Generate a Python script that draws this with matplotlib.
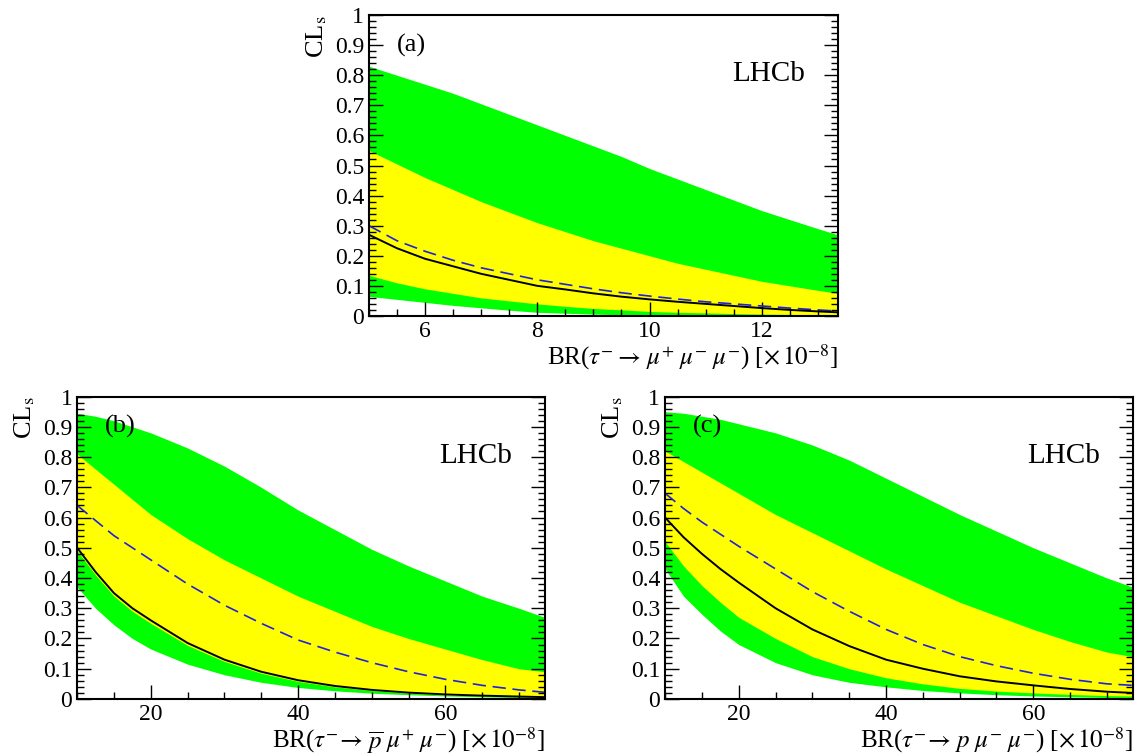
import numpy as np
import matplotlib.pyplot as plt
from matplotlib.ticker import MultipleLocator

plt.rcParams['font.family'] = ['Liberation Serif', 'DejaVu Serif']
plt.rcParams['mathtext.fontset'] = 'stix'

# Panel (a): tau -> mu mu mu
xa = [5, 5.5, 6, 6.5, 7, 7.5, 8, 8.5, 9, 9.5, 10, 10.5, 11, 11.5, 12, 12.5, 13, 13.35]
a_g_hi = [.83, .80, .77, .74, .705, .67, .635, .60, .565, .53, .49, .455, .42, .385, .35, .32, .29, .27]
a_y_hi = [.55, .505, .46, .42, .38, .345, .31, .28, .25, .225, .20, .175, .155, .135, .115, .10, .085, .075]
a_exp = [.30, .25, .215, .185, .16, .14, .12, .105, .09, .077, .066, .056, .047, .04, .033, .026, .02, .016]
a_obs = [.27, .225, .19, .165, .14, .12, .10, .088, .075, .064, .055, .047, .04, .033, .026, .02, .015, .012]
a_y_lo = [.135, .11, .09, .075, .06, .05, .04, .032, .025, .02, .015, .012, .01, .008, .006, .005, .004, .004]
a_g_lo = [.065, .055, .045, .035, .027, .019, .012, .009, .006, .004, .003, .002, .002, .001, .001, 0, 0, 0]

# Panel (b): tau -> pbar mu+ mu-
xb = [10, 12.5, 15, 17.5, 20, 25, 30, 35, 40, 45, 50, 55, 60, 65, 70, 73.5]
b_g_hi = [.945, .935, .92, .90, .88, .83, .77, .70, .625, .56, .495, .44, .39, .34, .30, .27]
b_y_hi = [.81, .76, .71, .66, .61, .53, .46, .40, .34, .29, .24, .20, .165, .13, .10, .09]
b_exp = [.64, .59, .54, .50, .46, .38, .31, .25, .195, .155, .12, .09, .065, .045, .03, .022]
b_obs = [.50, .42, .35, .30, .26, .185, .13, .09, .062, .043, .03, .021, .015, .011, .008, .006]
b_y_lo = [.49, .41, .34, .29, .25, .177, .124, .085, .058, .04, .028, .019, .013, .01, .007, .005]
b_g_lo = [.37, .30, .245, .20, .165, .115, .08, .055, .038, .027, .019, .014, .01, .007, .005, .004]

# Panel (c): tau -> p mu- mu-
xc = [10, 12.5, 15, 17.5, 20, 25, 30, 35, 40, 45, 50, 55, 60, 65, 70, 73.5]
c_g_hi = [.95, .945, .935, .925, .91, .88, .84, .79, .73, .67, .61, .555, .50, .45, .40, .37]
c_y_hi = [.82, .785, .75, .715, .68, .61, .55, .49, .43, .375, .32, .275, .23, .19, .155, .14]
c_exp = [.68, .63, .585, .545, .505, .43, .355, .29, .23, .18, .14, .11, .085, .065, .05, .045]
c_obs = [.60, .535, .48, .43, .385, .30, .23, .175, .13, .10, .075, .058, .045, .033, .024, .02]
c_y_lo = [.52, .44, .375, .32, .27, .20, .14, .10, .07, .05, .035, .026, .02, .015, .011, .01]
c_g_lo = [.43, .34, .28, .225, .18, .12, .08, .055, .04, .028, .02, .014, .01, .007, .005, .005]

panels = [
    ([0.325, 0.581, 0.413, 0.399], xa, a_g_hi, a_y_hi, a_exp, a_obs, a_y_lo, a_g_lo,
     '(a)', r'BR($\tau^{-}\rightarrow\,\mu^{+}\;\mu^{-}\;\mu^{-}$) [$\times\,10^{-8}$]', (5, 13.35), 2, 0.5),
    ([0.068, 0.073, 0.412, 0.401], xb, b_g_hi, b_y_hi, b_exp, b_obs, b_y_lo, b_g_lo,
     '(b)', r'BR($\tau^{-}\!\rightarrow\,\overline{p}\;\mu^{+}\;\mu^{-}$) [$\times\,10^{-8}$]', (10, 73.5), 20, 5),
    ([0.586, 0.073, 0.412, 0.401], xc, c_g_hi, c_y_hi, c_exp, c_obs, c_y_lo, c_g_lo,
     '(c)', r'BR($\tau^{-}\!\rightarrow\,p\;\mu^{-}\;\mu^{-}$) [$\times\,10^{-8}$]', (10, 73.5), 20, 5),
]

fig = plt.figure(figsize=(11.35, 7.54), dpi=100)
for pos, x, ghi, yhi, exp, obs, ylo, glo, tag, xlabel, xlim, major, minor in panels:
    ax = fig.add_axes(pos)
    ax.fill_between(x, glo, ghi, color='#00ff00', lw=0)
    ax.fill_between(x, ylo, yhi, color='#ffff00', lw=0)
    ax.plot(x, exp, color='#2020dd', lw=1.2, ls=(0, (8, 4)))
    ax.plot(x, obs, color='black', lw=1.4)
    ax.set_xlim(*xlim)
    ax.set_ylim(0, 1)
    ax.xaxis.set_major_locator(MultipleLocator(major))
    ax.xaxis.set_minor_locator(MultipleLocator(minor))
    ax.yaxis.set_major_locator(MultipleLocator(0.1))
    ax.yaxis.set_minor_locator(MultipleLocator(0.02))
    ax.yaxis.set_major_formatter(plt.FuncFormatter(lambda v, p: '0' if v == 0 else ('1' if abs(v - 1) < 1e-9 else f'{v:.1f}')))
    ax.tick_params(which='both', direction='in', right=True, labelsize=17)
    ax.tick_params(which='major', length=10, width=1)
    ax.tick_params(which='minor', length=5, width=1)
    for s in ax.spines.values():
        s.set_linewidth(1.5)
    ax.set_xlabel(xlabel, fontsize=18, loc='right', labelpad=0)
    ax.set_ylabel(r'CL$_{\rm s}$', fontsize=19, loc='top', labelpad=4)
    ax.text(0.06, 0.88, tag, transform=ax.transAxes, fontsize=19)
    ax.text(0.93, 0.78, 'LHCb', transform=ax.transAxes, fontsize=21, ha='right')

fig.savefig('out.png', dpi=100)
